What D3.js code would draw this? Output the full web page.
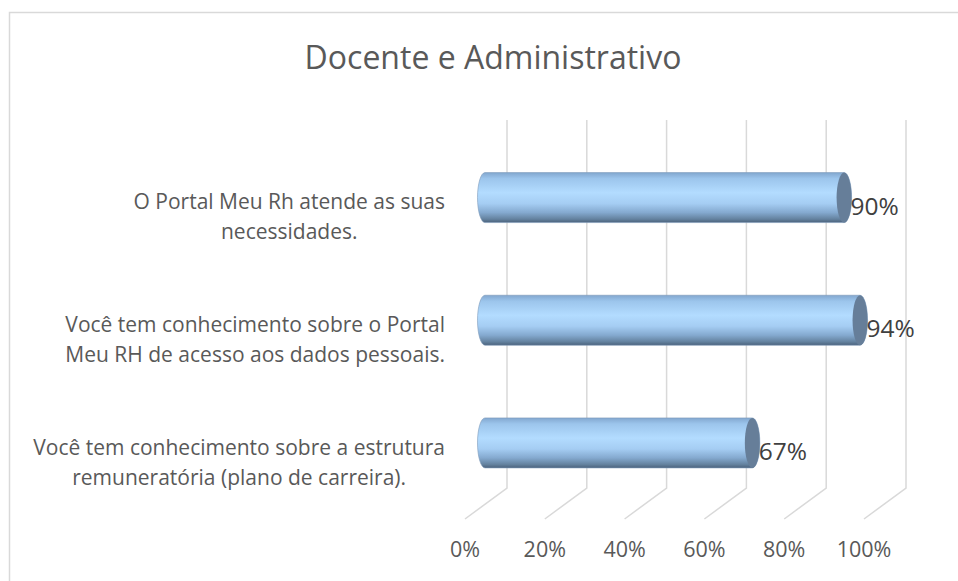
<!DOCTYPE html>
<meta charset="utf-8">
<style>
  body { margin: 0; padding: 0; background: #fff; }
  svg { display: block; background: #fff; font-family: "Open Sans", sans-serif; }
</style>
<script src="https://cdn.jsdelivr.net/npm/d3@7"></script>
<svg id="vis"></svg>
<script>

var width = 958, height = 581;

// data
const title = "Docente e Administrativo";
const categories = [
  ["O Portal Meu Rh atende as suas", "necessidades."],
  ["Você tem conhecimento sobre o Portal", "Meu RH de acesso aos dados pessoais."],
  ["Você tem conhecimento sobre a estrutura", "remuneratória (plano de carreira)."]
];
const values = [0.90, 0.94, 0.67];
const ticks = [0, 0.2, 0.4, 0.6, 0.8, 1.0];

var svg = d3.select("#vis").attr("width", width).attr("height", height);

// chart frame
svg.append("rect")
  .attr("x", 9.5).attr("y", 12.5)
  .attr("width", width + 20).attr("height", height + 20)
  .attr("fill", "none").attr("stroke", "#d9d9d9").attr("stroke-width", 1.5);

svg.append("text")
  .attr("x", 493).attr("y", 69)
  .attr("text-anchor", "middle")
  .attr("font-size", 32)
  .attr("fill", "#595959")
  .text(title);

// front plane scales, depth vector goes back-right-up
var x = d3.scaleLinear().domain([0, 1]).range([465, 864]);
var y = d3.scaleBand().domain(d3.range(categories.length)).range([151, 519]);
var depth = [42, -31];
var barDepth = 0.476;

// gridlines: on the back wall then down to the front floor edge
var grid = svg.append("g").attr("stroke", "#d9d9d9").attr("stroke-width", 1.5).attr("fill", "none");
ticks.forEach(t => {
  var fx = x(t), bx = fx + depth[0];
  var top = y.range()[0] + depth[1], bot = y.range()[1] + depth[1];
  grid.append("path")
    .attr("d", `M${bx},${top}L${bx},${bot}L${fx},${y.range()[1]}`);
});

// axis labels
svg.append("g").selectAll("text")
  .data(ticks).enter().append("text")
  .attr("x", d => x(d))
  .attr("y", 557)
  .attr("text-anchor", "middle")
  .attr("font-size", 21.5)
  .attr("fill", "#595959")
  .text(d => d3.format(".0%")(d));

// category labels, lines centred inside a right-aligned block
var labels = svg.append("g").attr("font-size", 21).attr("fill", "#595959");
categories.forEach((lines, i) => {
  var cy = y(i) + y.bandwidth() / 2;
  var g = labels.append("g");
  var t = g.selectAll("text").data(lines).enter().append("text")
    .attr("text-anchor", "middle")
    .attr("y", (d, j) => cy + (j - (lines.length - 1) / 2) * 30 + 12)
    .text(d => d);
  var w = d3.max(t.nodes(), n => n.getComputedTextLength());
  t.attr("x", 445 - w / 2);
});

// gradient for cylinder body
var defs = svg.append("defs");
var grad = defs.append("linearGradient").attr("id", "cyl").attr("x1", 0).attr("y1", 0).attr("x2", 0).attr("y2", 1);
[[0, "#82a7cf"], [0.12, "#9cc5ec"], [0.4, "#b3dcff"], [0.62, "#a5cdf3"], [0.8, "#84a9cf"], [0.93, "#64829f"], [1, "#4b627c"]]
  .forEach(s => grad.append("stop").attr("offset", s[0]).attr("stop-color", s[1]));

var barH = 50, rx = 7.5, ry = barH / 2;
var bars = svg.append("g");
values.forEach((v, i) => {
  var cy = y(i) + y.bandwidth() / 2 + depth[1] * barDepth;
  var x0 = x(0) + depth[0] * barDepth, x1 = x(v) + depth[0] * barDepth;
  var t = cy - ry, b = cy + ry;
  bars.append("path")
    .attr("d", `M${x0},${t}L${x1},${t}A${rx},${ry} 0 0 1 ${x1},${b}L${x0},${b}A${rx},${ry} 0 0 1 ${x0},${t}Z`)
    .attr("fill", "url(#cyl)")
    .attr("stroke", "#7d9bbb").attr("stroke-width", 0.6);
  bars.append("ellipse")
    .attr("cx", x1).attr("cy", cy).attr("rx", rx).attr("ry", ry)
    .attr("fill", "#667e99");
  bars.append("text")
    .attr("x", x1 + rx - 1)
    .attr("y", cy + 17)
    .attr("font-size", 24.5)
    .attr("fill", "#404040")
    .text(d3.format(".0%")(v));
});

</script>
